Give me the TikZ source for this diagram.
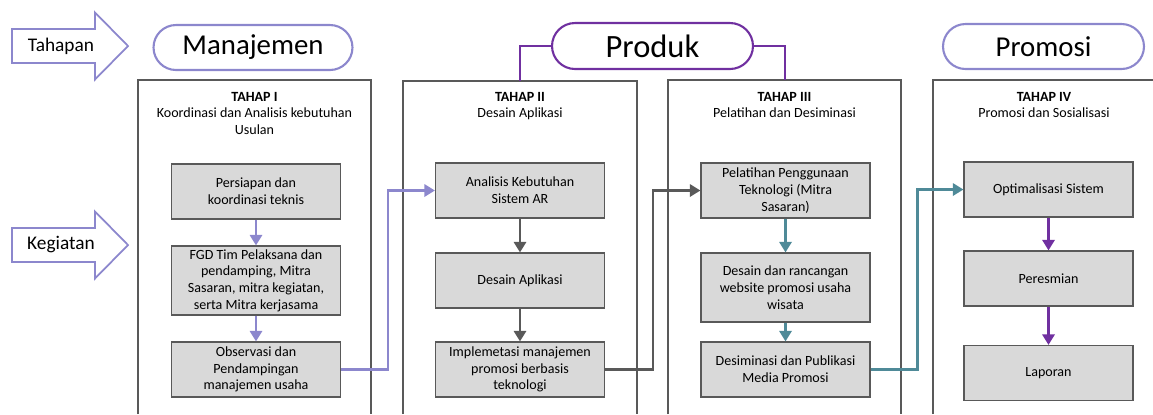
\documentclass[tikz,border=0pt]{standalone}
\usepackage{fontspec}
\setmainfont{Carlito}
\usetikzlibrary{arrows.meta}
\usetikzlibrary{shapes.misc}
\definecolor{lavender}{HTML}{8C87CD}
\definecolor{plum}{HTML}{7030A0}
\definecolor{slate}{HTML}{595959}
\definecolor{tealgray}{HTML}{4F8A98}
\definecolor{boxgray}{HTML}{D9D9D9}
% block arrow on the left: (name) {centre y} {label}
\newcommand{\blockarrow}[3]{
	\draw[blockarr] (12,#2-17)--(95,#2-17)--(95,#2-33.5)--(128,#2)--(95,#2+33.5)--(95,#2+17)--(12,#2+17)--cycle;
	\node[tag] (#1) at (61,#2) {#3};
}

\begin{document}
\begin{tikzpicture}[x=0.02cm,y=-0.02cm,
	frame/.style={draw=slate,line width=0.6pt},
	blockarr/.style={draw=lavender,fill=white,line width=1pt},
	tag/.style={font=\fontsize{11}{13}\selectfont,inner sep=0pt},
	stage/.style={draw=#1,line width=1.2pt,rounded rectangle,minimum width=3.98cm,minimum height=0.9cm,inner sep=0pt,font=\fontsize{16.4}{19}\selectfont},
	head/.style={align=center,anchor=north,inner sep=0pt,font=\fontsize{8}{9.3}\selectfont},
	task/.style={draw=slate,line width=0.7pt,fill=boxgray,align=center,minimum width=3.38cm,minimum height=1.1cm,inner sep=1pt,font=\fontsize{8}{9.5}\selectfont},
	flow/.style={draw=#1,line width=1.35pt,-{Triangle[length=6pt,width=7pt]}}]
	\useasboundingbox (0,0) rectangle (1153,414);
	
	%left arrows
	\blockarrow{tahapan}{46}{Tahapan}
	\blockarrow{kegiatan}{245}{Kegiatan}
	
	%stage frames (open at the bottom)
	\draw[frame] (138,414)--(138,80)--(371,80)--(371,414);
	\draw[frame] (403,414)--(403,81)--(637,81)--(637,414);
	\draw[frame] (668,414)--(668,80)--(901,80)--(901,414);
	\draw[frame] (933,414)--(933,80)--(1153,80);
	
	%stage labels
	\node[stage=lavender] (manajemen) at (253,47.5) {Manajemen};
	\node[stage=plum,minimum width=4.02cm,minimum height=0.92cm,font=\fontsize{18.5}{21}\selectfont] (produk) at (652.5,46) {Produk};
	\node[stage=lavender,minimum width=4.02cm] (promosi) at (1043.5,46.5) {Promosi};
	\coordinate (top2) at (520,81);
	\coordinate (top3) at (785,80);
	\draw[plum,line width=1.2pt] (produk.west) -| (top2);
	\draw[plum,line width=1.2pt] (produk.east) -| (top3);
	
	%headers
	\node[head] (h1) at (254.5,92) {\textbf{TAHAP I}\\Koordinasi dan Analisis kebutuhan\\Usulan};
	\node[head] (h2) at (520,92) {\textbf{TAHAP II}\\Desain Aplikasi};
	\node[head] (h3) at (784.5,92) {\textbf{TAHAP III}\\Pelatihan dan Desiminasi};
	\node[head] (h4) at (1044,92) {\textbf{TAHAP IV}\\Promosi dan Sosialisasi};
	
	%column I
	\node[task] (i1) at (256,191.5) {Persiapan dan\\koordinasi teknis};
	\node[task,minimum height=1.38cm] (i2) at (256,280.5) {FGD Tim Pelaksana dan\\pendamping, Mitra\\Sasaran, mitra kegiatan,\\serta Mitra kerjasama};
	\node[task] (i3) at (256,369.5) {Observasi dan\\Pendampingan\\manajemen usaha};
	\draw[flow=lavender] (i1)--(i2);
	\draw[flow=lavender] (i2)--(i3);
	
	%column II
	\node[task] (ii1) at (520,190.5) {Analisis Kebutuhan\\Sistem AR};
	\node[task] (ii2) at (520,280.5) {Desain Aplikasi};
	\node[task] (ii3) at (520,369.5) {Implemetasi manajemen\\promosi berbasis\\teknologi};
	\draw[flow=slate] (ii1)--(ii2);
	\draw[flow=slate] (ii2)--(ii3);
	
	%column III
	\node[task] (iii1) at (785.5,190.5) {Pelatihan Penggunaan\\Teknologi (Mitra\\Sasaran)};
	\node[task,minimum height=1.38cm] (iii2) at (785.5,287.5) {Desain dan rancangan\\website promosi usaha\\wisata};
	\node[task] (iii3) at (785.5,369.5) {Desiminasi dan Publikasi\\Media Promosi};
	\draw[flow=tealgray] (iii1)--(iii2);
	\draw[flow=tealgray] (iii2)--(iii3);
	
	%column IV
	\node[task] (iv1) at (1048.5,189.5) {Optimalisasi Sistem};
	\node[task] (iv2) at (1048.5,278.5) {Peresmian};
	\node[task] (iv3) at (1048.5,373) {Laporan};
	\draw[flow=plum] (iv1)--(iv2);
	\draw[flow=plum] (iv2)--(iv3);
	
	%links between stages
	\draw[flow=lavender] (i3.east) -- ++(47,0) |- (ii1.west);
	\draw[flow=slate] (ii3.east) -- ++(48,0) |- (iii1.west);
	\draw[flow=tealgray] (iii3.east) -- ++(47,0) |- (iv1.west);
\end{tikzpicture}
\end{document}
